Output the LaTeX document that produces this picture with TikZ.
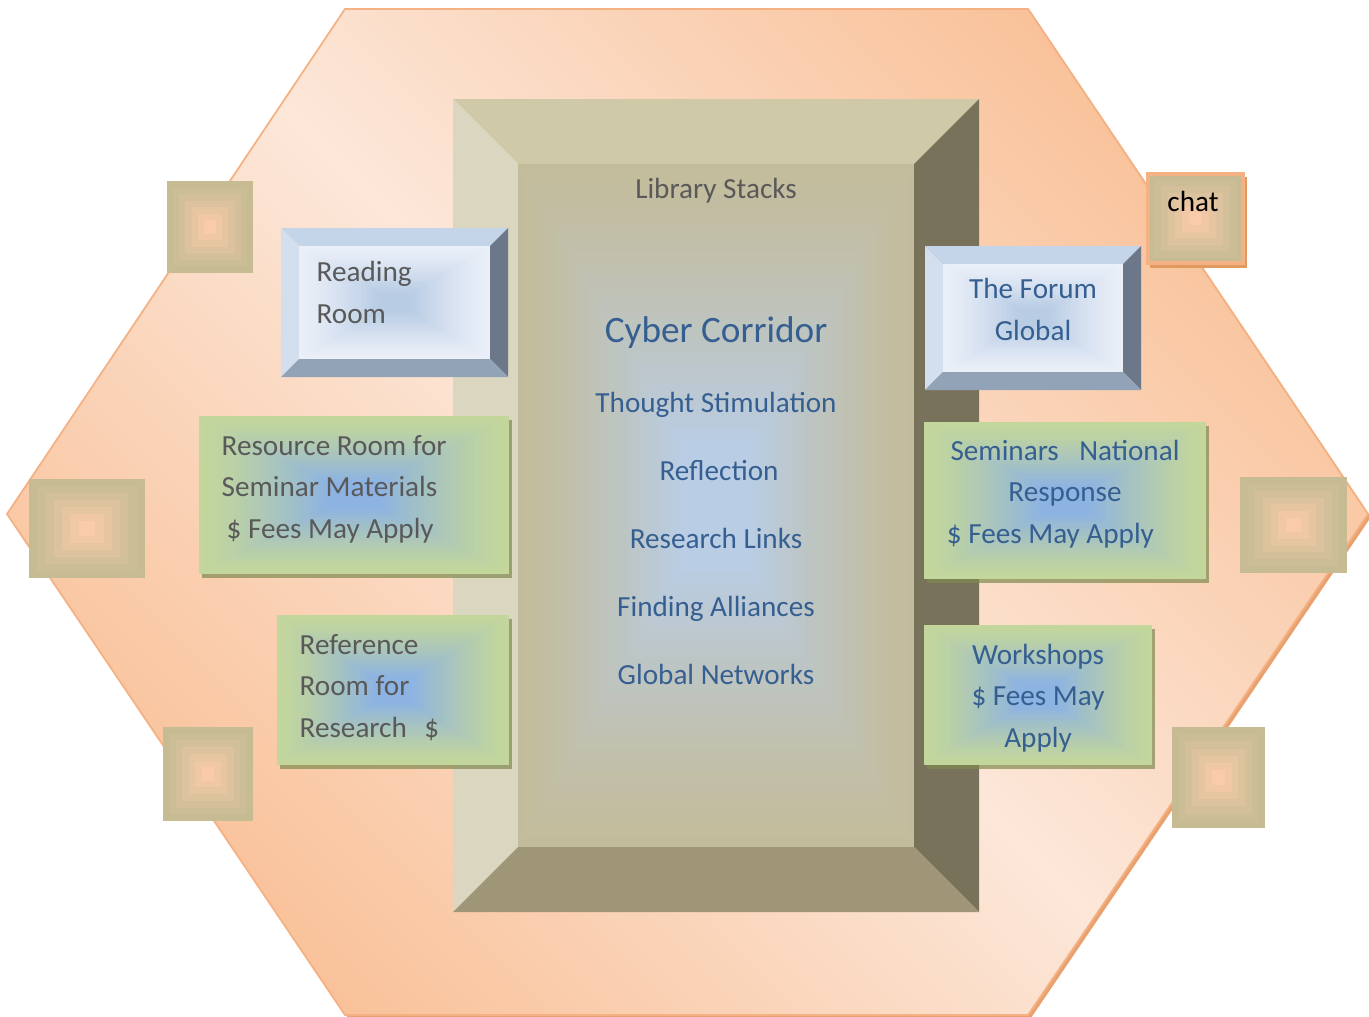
\documentclass[tikz,border=0pt]{standalone}
\usepackage{fontspec}
\setmainfont{Carlito}

\definecolor{peachlight}{HTML}{FCE7D9}
\definecolor{peachdark}{HTML}{F9C29A}
\definecolor{hexline}{HTML}{F4B183}
\definecolor{hexshadow}{HTML}{E9A26F}
\definecolor{stacktop}{HTML}{CFC9A8}
\definecolor{stackleft}{HTML}{DBD6BF}
\definecolor{stackright}{HTML}{79725A}
\definecolor{stackbot}{HTML}{9E9677}
\definecolor{stackface}{HTML}{C3BC9C}
\definecolor{stackspot}{HTML}{B9CDE5}
\definecolor{roomtop}{HTML}{C4D5EA}
\definecolor{roomleft}{HTML}{D3DFEE}
\definecolor{roomright}{HTML}{6C7789}
\definecolor{roombot}{HTML}{92A2B7}
\definecolor{roomface}{HTML}{EAEFF8}
\definecolor{roomspot}{HTML}{B8CCE4}
\definecolor{seminargreen}{HTML}{C3D69B}
\definecolor{seminarblue}{HTML}{8DB3E2}
\definecolor{seminarshadow}{HTML}{7F8A50}
\definecolor{patchtan}{HTML}{C6BB93}
\definecolor{patchpeach}{HTML}{F9CBAA}
\definecolor{chatshadow}{HTML}{E0995F}
\definecolor{txtgray}{HTML}{595959}
\definecolor{txtblue}{HTML}{365F91}

% nested rectangles: x1 y1 x2 y2 outer inner steps
\newcommand{\gradrect}[7]{%
  \foreach \i in {0,...,#7}{
    \pgfmathsetmacro{\gfrac}{\i/(#7+1)}
    \pgfmathsetmacro{\gpct}{min(100,130*\gfrac^1.3)}
    \fill[#6!\gpct!#5] ({(#1)+\gfrac*((#3)-(#1))/2},{(#2)+\gfrac*((#4)-(#2))/2})
      rectangle ({(#3)-\gfrac*((#3)-(#1))/2},{(#4)-\gfrac*((#4)-(#2))/2});
  }}
% bevelled block: x1 y1 x2 y2 depth colourprefix
\newcommand{\bevelbox}[6]{%
  \fill[#6top] (#1,#2) -- (#3,#2) -- ({(#3)-(#5)},{(#2)+(#5)}) -- ({(#1)+(#5)},{(#2)+(#5)}) -- cycle;
  \fill[#6left] (#1,#2) -- ({(#1)+(#5)},{(#2)+(#5)}) -- ({(#1)+(#5)},{(#4)-(#5)}) -- (#1,#4) -- cycle;
  \fill[#6right] (#3,#2) -- (#3,#4) -- ({(#3)-(#5)},{(#4)-(#5)}) -- ({(#3)-(#5)},{(#2)+(#5)}) -- cycle;
  \fill[#6bot] (#1,#4) -- ({(#1)+(#5)},{(#4)-(#5)}) -- ({(#3)-(#5)},{(#4)-(#5)}) -- (#3,#4) -- cycle;
  \gradrect{(#1)+(#5)}{(#2)+(#5)}{(#3)-(#5)}{(#4)-(#5)}{#6face}{#6spot}{30}}
% green room with its shadow
\newcommand{\seminarbox}[4]{%
  \fill[seminarshadow, opacity=0.7] ({(#1)+0.03},{(#2)+0.04}) rectangle ({(#3)+0.03},{(#4)+0.04});
  \gradrect{#1}{#2}{#3}{#4}{seminargreen}{seminarblue}{30}}
\newcommand{\tanpatch}[4]{\gradrect{#1}{#2}{#3}{#4}{patchtan}{patchpeach}{6}}

\tikzset{
  roomtext/.style={inner sep=0pt, font=\fontsize{8.3}{11.7}\selectfont},
  graytext/.style={roomtext, text=txtgray},
  bluetext/.style={roomtext, text=txtblue},
}

\begin{document}
\begin{tikzpicture}[y=-1cm]
\useasboundingbox (0,0) rectangle (13.69,10.16);

% the hexagon
\fill[hexshadow] (3.48,0.12) -- (10.31,0.12) -- (13.71,5.17) -- (10.31,10.18) -- (3.48,10.18) -- (0.10,5.17) -- cycle;
\shadedraw[left color=peachdark, right color=peachdark, middle color=peachlight, shading angle=-45, draw=hexline, line width=0.5pt]
  (3.45,0.09) -- (10.28,0.09) -- (13.68,5.14) -- (10.28,10.15) -- (3.45,10.15) -- (0.07,5.14) -- cycle;

% small squares
\tanpatch{1.67}{1.81}{2.53}{2.73}
\tanpatch{0.29}{4.79}{1.45}{5.78}
\tanpatch{1.63}{7.27}{2.53}{8.21}
\tanpatch{12.40}{4.77}{13.47}{5.73}
\tanpatch{11.72}{7.27}{12.65}{8.28}
\fill[chatshadow] (11.50,1.77) rectangle (12.47,2.68);
\tanpatch{11.47}{1.73}{12.44}{2.64}
\draw[hexline, line width=0.9pt] (11.48,1.74) rectangle (12.43,2.63);

% library stacks
\bevelbox{4.53}{0.99}{9.79}{9.12}{0.65}{stack}

% rooms
\bevelbox{2.81}{2.28}{5.08}{3.77}{0.18}{room}
\bevelbox{9.25}{2.46}{11.41}{3.90}{0.18}{room}
\seminarbox{1.99}{4.16}{5.09}{5.74}
\seminarbox{2.77}{6.15}{5.09}{7.65}
\seminarbox{9.24}{4.22}{12.06}{5.79}
\seminarbox{9.24}{6.25}{11.52}{7.65}

% texts (a multi-line node sits on its last line)
\node[graytext, anchor=base] (stacks) at (7.16,1.98) {Library Stacks};
\node[text=txtblue, inner sep=0pt, font=\fontsize{10.6}{13}\selectfont, anchor=base] (corridor) at (7.16,3.42) {Cyber Corridor};
\node[bluetext, anchor=base] (thought) at (7.16,4.12) {Thought Stimulation};
\node[bluetext, anchor=base] (reflection) at (7.19,4.80) {Reflection};
\node[bluetext, anchor=base] (links) at (7.16,5.48) {Research Links};
\node[bluetext, anchor=base] (alliances) at (7.16,6.16) {Finding Alliances};
\node[bluetext, anchor=base] (networks) at (7.16,6.84) {Global Networks};

\node[graytext, align=left, anchor=base west] (reading) at (3.16,3.23) {Reading\\Room};
\node[graytext, align=left, anchor=base west] (resource) at (2.21,5.38) {Resource Room for\\Seminar Materials\\\hspace{0.05cm}\$ Fees May Apply};
\node[graytext, align=left, anchor=base west] (reference) at (2.99,7.37) {Reference\\Room for\\Research\hspace{0.6em}\$};
\node[bluetext, align=center, anchor=base] (forum) at (10.33,3.40) {The Forum\\Global};
\node[bluetext, align=center, anchor=base] (seminars) at (10.65,5.43) {Seminars\hspace{0.7em}National\\Response\\\hspace*{-1em}\$ Fees May Apply};
\node[bluetext, align=center, anchor=base] (workshops) at (10.38,7.47) {Workshops\\\$ Fees May\\Apply};
\node[roomtext, anchor=base] (chat) at (11.93,2.11) {chat};
\end{tikzpicture}
\end{document}
